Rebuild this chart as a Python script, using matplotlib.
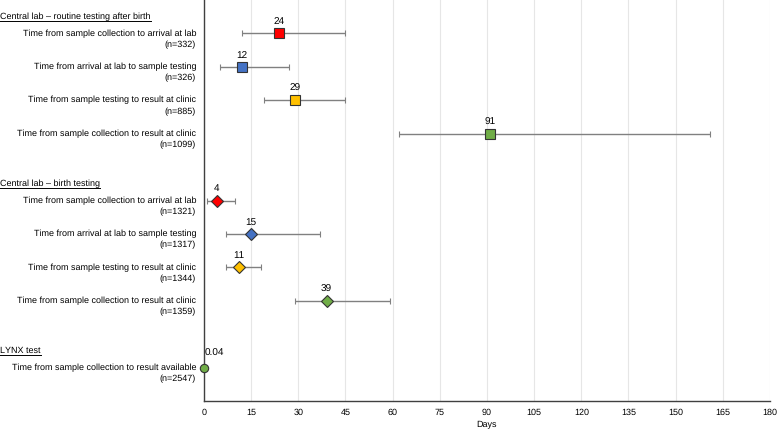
import matplotlib

matplotlib.use("Agg")
import matplotlib.pyplot as plt
from matplotlib.lines import Line2D

plt.rcParams["font.family"] = ["Liberation Sans", "DejaVu Sans"]
plt.rcParams["text.hinting"] = "no_hinting"
plt.rcParams["text.hinting_factor"] = 1

# Data
groups = ["Central lab \u2013 routine testing after birth",
          "Central lab \u2013 birth testing",
          "LYNX test"]
labels = [
    "Time from sample collection to arrival at lab",
    "Time from arrival at lab to sample testing",
    "Time from sample testing to result at clinic",
    "Time from sample collection to result at clinic",
    "Time from sample collection to arrival at lab",
    "Time from arrival at lab to sample testing",
    "Time from sample testing to result at clinic",
    "Time from sample collection to result at clinic",
    "Time from sample collection to result available",
]
counts = [332, 326, 885, 1099, 1321, 1317, 1344, 1359, 2547]
medians = [24, 12, 29, 91, 4, 15, 11, 39, 0.04]
low = [12, 5, 19, 62, 1, 7, 7, 29, None]
high = [45, 27, 45, 161, 10, 37, 18, 59, None]
value_text = ["24", "12", "29", "91", "4", "15", "11", "39", "0.04"]
group_of = [0, 0, 0, 0, 1, 1, 1, 1, 2]
xticks = list(range(0, 181, 15))

colors = ["#ff0000", "#4472c4", "#ffc000", "#70ad47",
          "#ff0000", "#4472c4", "#ffc000", "#70ad47", "#70ad47"]
markers = ["s", "s", "s", "s", "D", "D", "D", "D", "o"]

FS = 6.6

# row positions: a blank slot before every group header
ypos = []
header_pos = []
y = -0.5
prev = None
for g in group_of:
    if g != prev:
        if prev is not None:
            y += 0.5
        header_pos.append(y)
        y += 0.5
        prev = g
    ypos.append(y)
    y += 1

fig = plt.figure(figsize=(7.78, 4.3), dpi=100)
ax = fig.add_axes([0.2622, 0.0674, 0.7275, 0.9326])

ax.set_xlim(0, 180)
ax.set_ylim(11, -1)
ax.set_xticks(xticks)
ax.tick_params(axis="x", length=0, pad=5, labelsize=FS)
ax.set_yticks([])
ax.grid(axis="x", color="#e6e6e6", linewidth=0.8)
ax.set_axisbelow(True)
for side in ["top", "right"]:
    ax.spines[side].set_visible(False)
for side in ["left", "bottom"]:
    ax.spines[side].set_color("#404040")
    ax.spines[side].set_linewidth(1.0)
ax.set_xlabel("Days", fontsize=FS, labelpad=3)

ytr = ax.get_yaxis_transform()

for i in range(len(medians)):
    yy = ypos[i]
    if low[i] is not None:
        ax.errorbar(medians[i], yy,
                    xerr=[[medians[i] - low[i]], [high[i] - medians[i]]],
                    fmt="none", ecolor="#808080", elinewidth=1.0,
                    capsize=2.5, capthick=0.8, zorder=2)
    ms = 6.5 if markers[i] == "s" else 6
    ax.plot(medians[i], yy, marker=markers[i], color=colors[i],
            markeredgecolor="#333333", markeredgewidth=0.8,
            markersize=ms, linestyle="none", zorder=3, clip_on=False)
    if medians[i] < 1:
        ax.annotate(value_text[i], (medians[i], yy), xytext=(0, 7),
                    textcoords="offset points", ha="left", va="bottom",
                    fontsize=7.3)
    else:
        ax.annotate(value_text[i], (medians[i], yy), xytext=(0, 5),
                    textcoords="offset points", ha="center", va="bottom",
                    fontsize=7.3)
    ax.text(-0.014, yy, labels[i], transform=ytr, ha="right",
            va="center", fontsize=FS)
    ax.text(-0.014, yy + 0.34, f"(n={counts[i]})", transform=ytr,
            ha="right", va="center", fontsize=FS)

header_texts = []
for g, hp in zip(groups, header_pos):
    t = ax.text(-0.3604, hp, g, transform=ytr, ha="left", va="center",
                fontsize=FS)
    header_texts.append(t)

# underline group headers
fig.canvas.draw()
renderer = fig.canvas.get_renderer()
W, H = fig.bbox.width, fig.bbox.height
for t in header_texts:
    bb = t.get_window_extent(renderer)
    yline = (bb.y0 - 0.3) / H
    fig.add_artist(Line2D([bb.x0 / W, bb.x1 / W], [yline, yline],
                          color="black", linewidth=0.7))

fig.savefig("out.png", dpi=100, facecolor="white")
